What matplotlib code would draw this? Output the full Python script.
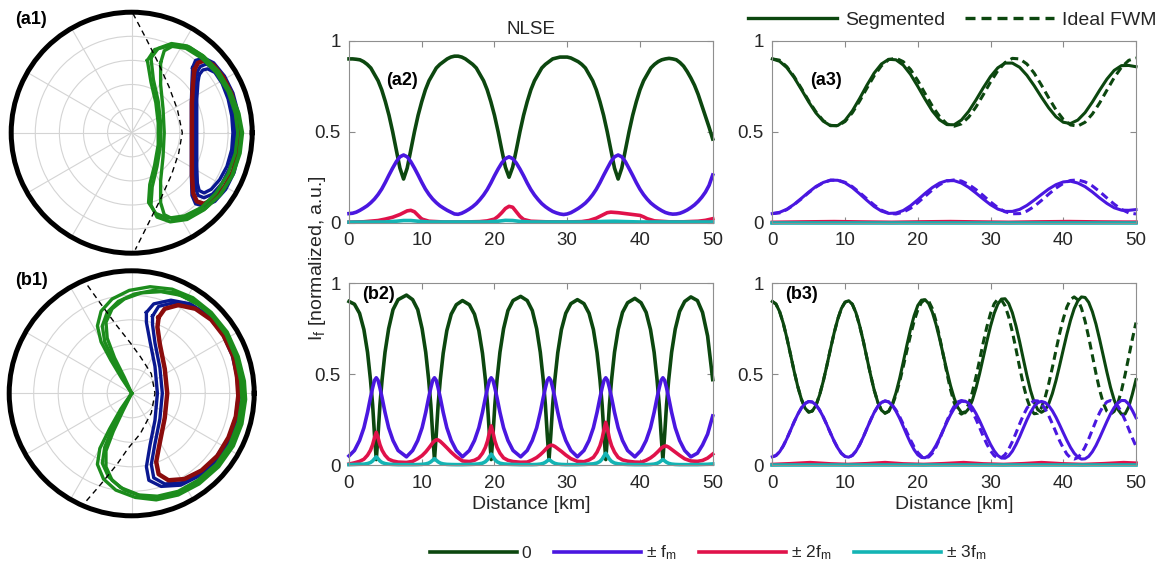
import numpy as np
import matplotlib
matplotlib.use("Agg")
import matplotlib.pyplot as plt
from matplotlib.lines import Line2D

plt.rcParams['font.family'] = ['Liberation Sans', 'DejaVu Sans']
plt.rcParams['mathtext.fontset'] = 'custom'
plt.rcParams['mathtext.rm'] = 'Liberation Sans'
plt.rcParams['mathtext.it'] = 'Liberation Sans:italic'
plt.rcParams['mathtext.bf'] = 'Liberation Sans:bold'

# ---------------- data: polar panels (normalised x, y on the unit disc) ----------------
a1_green_lap1 = [(0.16,0.62),(0.22,0.70),(0.33,0.74),(0.46,0.72),(0.59,0.64),(0.71,0.52),(0.81,0.35),(0.88,0.17),
                 (0.91,0.0),(0.89,-0.18),(0.83,-0.36),(0.73,-0.52),(0.60,-0.64),(0.46,-0.72),(0.32,-0.74),(0.21,-0.70),
                 (0.16,-0.60),(0.17,-0.45),(0.21,-0.28),(0.24,-0.10),(0.24,0.08),(0.22,0.26),(0.18,0.44),(0.16,0.62)]
a1_green_lap2 = [(0.13,0.60),(0.19,0.69),(0.31,0.72),(0.45,0.70),(0.58,0.62),(0.70,0.50),(0.80,0.34),(0.86,0.16),
                 (0.88,0.0),(0.86,-0.17),(0.80,-0.34),(0.70,-0.50),(0.58,-0.62),(0.44,-0.69),(0.30,-0.71),(0.20,-0.67),
                 (0.14,-0.58),(0.15,-0.43),(0.19,-0.27),(0.22,-0.10),(0.22,0.08),(0.20,0.25),(0.16,0.42),(0.13,0.60)]
a1_green_lap3 = [(0.24,0.58),(0.27,0.68),(0.36,0.73),(0.48,0.71),(0.60,0.63),(0.72,0.51),(0.82,0.34),(0.89,0.16),
                 (0.92,0.0),(0.90,-0.17),(0.84,-0.35),(0.74,-0.51),(0.61,-0.63),(0.47,-0.70),(0.35,-0.72),(0.27,-0.68),
                 (0.24,-0.58),(0.24,-0.40),(0.26,-0.20),(0.27,0.0),(0.26,0.20),(0.24,0.40),(0.24,0.58)]
a1_blue_lap1 = [(0.54,0.50),(0.57,0.55),(0.62,0.57),(0.69,0.53),(0.76,0.43),(0.82,0.30),(0.85,0.15),(0.86,0.0),
                (0.85,-0.15),(0.81,-0.30),(0.75,-0.42),(0.67,-0.51),(0.60,-0.54),(0.55,-0.52),(0.53,-0.46),(0.52,-0.30),
                (0.52,-0.10),(0.52,0.10),(0.52,0.30),(0.53,0.44),(0.54,0.50)]
a1_blue_lap2 = [(0.56,0.48),(0.59,0.52),(0.63,0.53),(0.69,0.50),(0.75,0.41),(0.80,0.28),(0.83,0.14),(0.84,0.0),
                (0.83,-0.14),(0.79,-0.28),(0.73,-0.39),(0.66,-0.47),(0.60,-0.50),(0.56,-0.48),(0.545,-0.42),(0.54,-0.28),
                (0.54,-0.10),(0.54,0.10),(0.54,0.28),(0.55,0.42),(0.56,0.48)]
a1_blue_lap3 = [(0.505,0.54),(0.53,0.60),(0.60,0.62),(0.68,0.58),(0.77,0.47),(0.84,0.33),(0.885,0.16),(0.90,0.0),
                (0.89,-0.16),(0.85,-0.33),(0.78,-0.47),(0.69,-0.57),(0.60,-0.61),(0.53,-0.59),(0.50,-0.52),(0.495,-0.35),
                (0.495,-0.15),(0.495,0.05),(0.495,0.25),(0.50,0.42),(0.505,0.54)]
a1_red = [(0.52,0.52),(0.55,0.58),(0.61,0.60),(0.68,0.56),(0.76,0.46),(0.83,0.32),(0.87,0.16),(0.89,0.0),
          (0.88,-0.16),(0.84,-0.32),(0.77,-0.45),(0.68,-0.55),(0.60,-0.59),(0.54,-0.57),(0.51,-0.50),(0.50,-0.35),
          (0.50,-0.15),(0.50,0.05),(0.50,0.25),(0.51,0.42),(0.52,0.52)]
a1_dash = [(0.01,0.99),(0.12,0.78),(0.22,0.58),(0.31,0.38),(0.38,0.19),(0.42,0.0),(0.39,-0.17),(0.33,-0.35),
           (0.24,-0.55),(0.14,-0.75),(0.03,-0.97)]

b1_green_lap1 = [(0.0,0.0),(-0.08,0.12),(-0.17,0.27),(-0.25,0.42),(-0.28,0.55),(-0.25,0.67),(-0.16,0.77),(-0.02,0.84),
                 (0.15,0.87),(0.33,0.85),(0.50,0.78),(0.65,0.66),(0.78,0.50),(0.87,0.30),(0.92,0.10),(0.93,-0.05),
                 (0.90,-0.25),(0.83,-0.43),(0.71,-0.60),(0.55,-0.74),(0.38,-0.83),(0.20,-0.87),(0.03,-0.85),(-0.13,-0.79),
                 (-0.23,-0.70),(-0.28,-0.58),(-0.26,-0.45),(-0.18,-0.29),(-0.09,-0.13),(0.0,0.0)]
b1_green_lap2 = [(0.0,0.0),(-0.07,0.12),(-0.15,0.27),(-0.22,0.42),(-0.24,0.55),(-0.20,0.66),(-0.11,0.75),(0.02,0.81),
                 (0.18,0.84),(0.35,0.82),(0.51,0.75),(0.65,0.64),(0.77,0.48),(0.85,0.29),(0.89,0.10),(0.90,-0.05),
                 (0.87,-0.24),(0.80,-0.42),(0.69,-0.58),(0.54,-0.71),(0.38,-0.80),(0.21,-0.84),(0.06,-0.83),(-0.09,-0.77),
                 (-0.19,-0.68),(-0.24,-0.57),(-0.22,-0.44),(-0.16,-0.29),(-0.08,-0.13),(0.0,0.0)]
b1_green_lap3 = [(0.0,0.0),(-0.06,0.13),(-0.14,0.29),(-0.20,0.45),(-0.21,0.58),(-0.16,0.69),(-0.06,0.77),(0.08,0.82),
                 (0.24,0.83),(0.40,0.80),(0.55,0.72),(0.68,0.61),(0.79,0.46),(0.86,0.28),(0.90,0.10),(0.91,-0.06),
                 (0.88,-0.25),(0.81,-0.43),(0.70,-0.59),(0.56,-0.72),(0.40,-0.81),(0.24,-0.85),(0.08,-0.84),(-0.06,-0.79),
                 (-0.16,-0.71),(-0.21,-0.60),(-0.21,-0.47),(-0.15,-0.31),(-0.07,-0.14),(0.0,0.0)]
b1_blue_lap1 = [(0.12,0.66),(0.18,0.73),(0.32,0.76),(0.48,0.73),(0.62,0.64),(0.74,0.50),(0.83,0.32),(0.87,0.14),
                (0.88,-0.02),(0.86,-0.20),(0.80,-0.38),(0.70,-0.54),(0.56,-0.67),(0.40,-0.75),(0.24,-0.76),(0.14,-0.71),
                (0.12,-0.60),(0.15,-0.42),(0.19,-0.22),(0.21,0.0),(0.19,0.22),(0.15,0.42),(0.12,0.58),(0.12,0.66)]
b1_blue_lap2 = [(0.17,0.63),(0.22,0.71),(0.35,0.74),(0.50,0.71),(0.63,0.62),(0.74,0.49),(0.82,0.31),(0.86,0.14),
                (0.87,-0.02),(0.85,-0.19),(0.79,-0.37),(0.69,-0.52),(0.56,-0.65),(0.41,-0.73),(0.27,-0.74),(0.18,-0.69),
                (0.16,-0.58),(0.19,-0.41),(0.23,-0.21),(0.25,0.0),(0.23,0.21),(0.19,0.41),(0.17,0.56),(0.17,0.63)]
b1_red = [(0.22,0.62),(0.27,0.69),(0.38,0.72),(0.52,0.69),(0.65,0.60),(0.75,0.47),(0.83,0.30),(0.86,0.13),
          (0.87,-0.02),(0.85,-0.19),(0.79,-0.36),(0.70,-0.51),(0.57,-0.63),(0.43,-0.70),(0.30,-0.71),(0.22,-0.66),
          (0.20,-0.56),(0.23,-0.40),(0.27,-0.20),(0.29,0.0),(0.27,0.20),(0.23,0.40),(0.21,0.54),(0.22,0.62)]
b1_dash = [(-0.36,0.88),(-0.26,0.74),(-0.12,0.55),(-0.01,0.41),(0.07,0.30),(0.16,0.16),(0.19,0.0),(0.16,-0.16),
           (0.07,-0.33),(-0.03,-0.45),(-0.12,-0.58),(-0.25,-0.74),(-0.38,-0.89)]

# ---------------- data: line panels ----------------
x_half = [i * 0.5 for i in range(101)]     # 0 ... 50 km, 0.5 km step
x_one = list(range(51))                     # 0 ... 50 km, 1 km step

# (a2) NLSE
a2_p0 = [0.900,0.900,0.898,0.895,0.885,0.870,0.850,0.815,0.780,0.730,
         0.665,0.590,0.500,0.400,0.300,0.240,0.300,0.400,0.500,0.590,
         0.665,0.730,0.780,0.815,0.850,0.870,0.885,0.900,0.910,0.915,
         0.915,0.910,0.900,0.885,0.870,0.850,0.815,0.780,0.730,0.665,
         0.590,0.500,0.400,0.305,0.250,0.305,0.400,0.500,0.590,0.665,
         0.730,0.780,0.815,0.850,0.870,0.885,0.900,0.905,0.910,0.910,
         0.910,0.905,0.895,0.885,0.870,0.850,0.815,0.780,0.730,0.665,
         0.590,0.500,0.400,0.300,0.240,0.300,0.400,0.500,0.590,0.665,
         0.730,0.780,0.815,0.850,0.870,0.885,0.895,0.900,0.903,0.900,
         0.895,0.880,0.860,0.830,0.795,0.755,0.705,0.645,0.585,0.525,
         0.460]
a2_p1 = [0.050,0.052,0.058,0.068,0.080,0.093,0.110,0.130,0.155,0.185,
         0.222,0.262,0.300,0.335,0.362,0.372,0.362,0.335,0.300,0.262,
         0.222,0.185,0.155,0.130,0.110,0.093,0.080,0.068,0.058,0.048,
         0.046,0.052,0.062,0.074,0.088,0.105,0.127,0.152,0.182,0.218,
         0.258,0.295,0.328,0.352,0.362,0.352,0.328,0.295,0.258,0.218,
         0.182,0.152,0.127,0.105,0.088,0.074,0.062,0.054,0.048,0.045,
         0.048,0.055,0.066,0.078,0.092,0.108,0.129,0.154,0.184,0.220,
         0.260,0.298,0.335,0.362,0.372,0.362,0.335,0.298,0.260,0.220,
         0.184,0.154,0.129,0.108,0.092,0.078,0.066,0.056,0.050,0.047,
         0.048,0.052,0.060,0.070,0.083,0.098,0.117,0.140,0.168,0.205,
         0.262]
a2_p2_x = [0,2,4,5,6,7,7.5,8,8.5,9,9.5,10,11,13,16,18,19,20,20.5,21,21.5,22,22.5,23,23.5,24,25,27,
           30,32,33,34,35,35.5,36,37,38,39,40,40.5,41,42,44,46,48,49,50]
a2_p2 = [0.003,0.005,0.012,0.02,0.03,0.045,0.055,0.065,0.068,0.06,0.04,0.02,0.008,0.004,
         0.004,0.006,0.01,0.02,0.035,0.055,0.078,0.09,0.085,0.06,0.035,0.018,0.008,0.005,
         0.004,0.006,0.012,0.025,0.045,0.055,0.058,0.055,0.05,0.045,0.04,0.032,0.022,0.01,
         0.005,0.005,0.008,0.013,0.022]
a2_p3_x = [0,5,6.5,7.5,8.5,9.5,11,19,20.5,21.5,22.5,23.5,25,33,35,36.5,38,40,50]
a2_p3 = [0.003,0.004,0.008,0.012,0.012,0.008,0.004,0.004,0.008,0.013,0.012,0.007,0.004,0.004,0.007,0.008,0.006,0.004,0.004]

# (a3) segmented vs ideal FWM
a3_p0_seg = [0.900,0.887,0.852,0.798,0.732,0.664,0.603,0.558,0.533,0.534,
             0.562,0.614,0.682,0.755,0.822,0.872,0.898,0.895,0.866,0.815,
             0.749,0.679,0.614,0.565,0.539,0.538,0.564,0.612,0.674,0.741,
             0.803,0.851,0.877,0.877,0.854,0.810,0.753,0.690,0.631,0.582,
             0.552,0.545,0.564,0.605,0.663,0.728,0.789,0.837,0.863,0.864,0.857]
a3_p0_fwm = [0.900,0.893,0.857,0.803,0.738,0.670,0.609,0.561,0.535,0.532,
             0.556,0.604,0.668,0.739,0.807,0.862,0.896,0.904,0.885,0.842,
             0.781,0.710,0.641,0.583,0.543,0.530,0.543,0.580,0.636,0.703,
             0.773,0.835,0.880,0.903,0.900,0.872,0.822,0.756,0.686,0.620,
             0.568,0.537,0.531,0.552,0.597,0.658,0.728,0.797,0.854,0.892,0.905]
a3_p1_seg = [0.050,0.057,0.074,0.101,0.134,0.168,0.199,0.221,0.234,0.233,
             0.219,0.193,0.159,0.123,0.089,0.064,0.051,0.053,0.067,0.093,
             0.126,0.161,0.193,0.218,0.231,0.231,0.218,0.194,0.163,0.130,
             0.099,0.075,0.062,0.062,0.073,0.095,0.124,0.155,0.185,0.209,
             0.224,0.228,0.218,0.198,0.169,0.136,0.106,0.082,0.069,0.068,0.072]
a3_p1_fwm = [0.050,0.054,0.072,0.099,0.131,0.165,0.196,0.220,0.233,0.234,
             0.222,0.198,0.166,0.131,0.097,0.069,0.052,0.048,0.058,0.079,
             0.110,0.145,0.180,0.209,0.229,0.235,0.229,0.210,0.182,0.149,
             0.114,0.083,0.060,0.049,0.050,0.064,0.089,0.122,0.157,0.190,
             0.216,0.232,0.235,0.224,0.202,0.171,0.136,0.102,0.073,0.054,0.048]
a3_p2_x = [0,4,8.5,12,16.4,20,24.5,28,32.5,36,40.8,45,48.5,50]
a3_p2 = [0.002,0.004,0.006,0.004,0.002,0.004,0.006,0.004,0.002,0.004,0.006,0.004,0.003,0.003]
a3_p3_x = [0,25,50]
a3_p3 = [0.001,0.001,0.001]

# (b2) NLSE
b2_x = [0,0.75,1.45,2.05,2.55,2.95,3.25,3.5,3.75,4.0,4.25,4.55,4.95,5.45,6.05,6.75,7.9,
        8.75,9.45,10.05,10.55,10.95,11.25,11.5,11.75,12.0,12.25,12.55,12.95,13.45,14.05,14.75,15.6,
        16.55,17.25,17.85,18.35,18.75,19.05,19.3,19.55,19.8,20.05,20.35,20.75,21.25,21.85,22.55,23.6,
        24.5,25.2,25.8,26.3,26.7,27.0,27.25,27.5,27.75,28.0,28.3,28.7,29.2,29.8,30.5,31.4,
        32.3,33.0,33.6,34.1,34.5,34.8,35.05,35.3,35.55,35.8,36.1,36.5,37.0,37.6,38.3,39.3,
        40.15,40.85,41.45,41.95,42.35,42.65,42.9,43.15,43.4,43.65,43.95,44.35,44.85,45.45,46.15,47.0,
        47.9,48.6,49.3,50.0]
b2_p0 = [0.900,0.885,0.835,0.745,0.620,0.470,0.330,0.170,0.030,0.170,0.330,0.470,0.620,0.750,0.855,0.910,0.935,
         0.910,0.855,0.750,0.620,0.470,0.330,0.170,0.030,0.170,0.330,0.470,0.615,0.740,0.830,0.882,0.905,
         0.882,0.830,0.740,0.615,0.470,0.330,0.170,0.030,0.170,0.330,0.470,0.620,0.750,0.850,0.905,0.928,
         0.905,0.850,0.750,0.620,0.470,0.330,0.170,0.030,0.170,0.330,0.470,0.618,0.745,0.835,0.888,0.910,
         0.888,0.835,0.745,0.618,0.470,0.330,0.170,0.030,0.170,0.330,0.470,0.620,0.745,0.840,0.893,0.917,
         0.893,0.840,0.745,0.620,0.470,0.330,0.170,0.030,0.170,0.330,0.470,0.620,0.748,0.845,0.900,0.925,
         0.905,0.840,0.710,0.470]
b2_p1 = [0.050,0.080,0.135,0.205,0.290,0.370,0.425,0.465,0.480,0.465,0.425,0.370,0.290,0.205,0.135,0.080,0.045,
         0.080,0.135,0.205,0.290,0.370,0.425,0.465,0.480,0.465,0.425,0.370,0.290,0.205,0.135,0.080,0.045,
         0.080,0.135,0.205,0.290,0.370,0.425,0.465,0.480,0.465,0.425,0.370,0.290,0.205,0.135,0.080,0.045,
         0.080,0.135,0.205,0.290,0.370,0.425,0.465,0.480,0.465,0.425,0.370,0.290,0.205,0.135,0.080,0.045,
         0.080,0.135,0.205,0.290,0.370,0.425,0.465,0.480,0.465,0.425,0.370,0.290,0.205,0.135,0.080,0.045,
         0.080,0.135,0.205,0.290,0.370,0.425,0.465,0.480,0.465,0.425,0.370,0.290,0.205,0.135,0.080,0.045,
         0.065,0.110,0.170,0.270]
b2_p2 = [0.005,0.012,0.020,0.032,0.054,0.081,0.112,0.149,0.180,0.149,0.112,0.081,0.054,0.032,0.022,0.016,0.014,
         0.020,0.035,0.052,0.072,0.092,0.108,0.122,0.132,0.139,0.138,0.130,0.115,0.095,0.070,0.045,0.022,
         0.019,0.026,0.039,0.065,0.097,0.133,0.178,0.215,0.178,0.133,0.097,0.065,0.039,0.026,0.019,0.015,
         0.016,0.028,0.041,0.057,0.072,0.085,0.096,0.104,0.109,0.108,0.102,0.090,0.075,0.055,0.035,0.020,
         0.018,0.028,0.042,0.071,0.106,0.146,0.195,0.235,0.195,0.146,0.106,0.071,0.042,0.028,0.021,0.016,
         0.015,0.026,0.039,0.054,0.069,0.081,0.092,0.099,0.104,0.104,0.098,0.086,0.071,0.053,0.034,0.022,
         0.020,0.025,0.038,0.060]
b2_p3 = [0.002,0.003,0.004,0.0045,0.008,0.0135,0.0225,0.034,0.045,0.034,0.0225,0.0135,0.008,0.0045,0.003,0.002,0.002,
         0.002,0.0025,0.0035,0.006,0.0105,0.0175,0.026,0.035,0.026,0.0175,0.0105,0.006,0.0035,0.0025,0.002,0.002,
         0.003,0.004,0.006,0.010,0.018,0.030,0.045,0.060,0.045,0.030,0.018,0.010,0.006,0.004,0.003,0.002,
         0.002,0.002,0.003,0.005,0.009,0.015,0.0225,0.030,0.0225,0.015,0.009,0.005,0.003,0.002,0.002,0.002,
         0.003,0.0045,0.0065,0.011,0.0195,0.0325,0.049,0.065,0.049,0.0325,0.0195,0.011,0.0065,0.0045,0.003,0.002,
         0.002,0.002,0.003,0.005,0.009,0.015,0.0225,0.030,0.0225,0.015,0.009,0.005,0.003,0.002,0.002,0.002,
         0.002,0.003,0.004,0.006]

# (b3) segmented vs ideal FWM
b3_p0_seg = [0.900,0.886,0.845,0.781,0.700,0.609,0.516,0.432,0.362,0.313,0.291,
             0.297,0.328,0.385,0.460,0.547,0.639,0.727,0.803,0.862,0.896,0.904,
             0.885,0.838,0.768,0.684,0.590,0.498,0.413,0.346,0.302,0.285,
             0.296,0.335,0.397,0.475,0.566,0.659,0.747,0.822,0.878,0.907,0.910,
             0.888,0.841,0.775,0.695,0.607,0.519,0.437,0.368,0.317,0.289,
             0.287,0.310,0.356,0.423,0.503,0.592,0.681,0.764,0.834,0.885,0.913,
             0.915,0.889,0.838,0.765,0.679,0.585,0.493,0.410,0.345,0.304,0.290,
             0.302,0.337,0.393,0.465,0.548,0.635,0.720,0.797,0.860,0.903,0.925,
             0.922,0.895,0.844,0.775,0.691,0.601,0.511,0.427,0.358,0.307,0.280,
             0.281,0.320,0.390,0.470]
b3_p0_fwm = [0.900,0.886,0.845,0.781,0.700,0.609,0.516,0.432,0.362,0.313,0.291,
             0.297,0.328,0.385,0.460,0.547,0.639,0.727,0.803,0.862,0.896,0.904,
             0.885,0.838,0.768,0.684,0.590,0.498,0.413,0.346,0.302,0.285,
             0.295,0.330,0.385,0.457,0.541,0.630,0.714,0.792,0.853,0.894,
             0.911,0.902,0.861,0.793,0.705,0.606,0.506,0.415,0.343,0.296,
             0.280,0.294,0.336,0.401,0.485,0.578,0.674,0.761,0.834,0.887,
             0.913,0.909,0.876,0.815,0.733,0.638,0.538,0.444,0.366,0.310,
             0.282,0.285,0.315,0.371,0.447,0.536,0.631,0.724,0.804,0.870,
             0.911,0.925,0.909,0.863,0.792,0.702,0.603,0.503,0.413,0.341,
             0.295,0.280,0.295,0.340,0.409,0.497,0.595,0.693,0.784]
b3_p1_seg = [0.045,0.052,0.0725,0.1045,0.145,0.1905,0.237,0.279,0.314,0.3385,0.3495,
             0.3465,0.331,0.3025,0.265,0.2215,0.1755,0.1315,0.0935,0.064,0.047,0.043,
             0.0525,0.076,0.111,0.153,0.2,0.246,0.2885,0.322,0.344,0.3525,
             0.347,0.3275,0.2965,0.2575,0.212,0.1655,0.1215,0.084,0.056,0.0415,0.04,
             0.051,0.0745,0.1075,0.1475,0.1915,0.2355,0.2765,0.311,0.3365,0.3505,
             0.3515,0.34,0.317,0.2835,0.2435,0.199,0.1545,0.113,0.078,0.0525,0.0385,
             0.0375,0.0505,0.076,0.1125,0.1555,0.2025,0.2485,0.29,0.3225,0.343,0.35,
             0.344,0.3265,0.2985,0.2625,0.221,0.1775,0.135,0.0965,0.065,0.0435,0.0325,
             0.034,0.0475,0.073,0.1075,0.1495,0.1945,0.2395,0.2815,0.316,0.3415,0.355,
             0.3545,0.335,0.3,0.26]
b3_p1_fwm = [0.045,0.052,0.0725,0.1045,0.145,0.1905,0.237,0.279,0.314,0.3385,0.3495,
             0.3465,0.331,0.3025,0.265,0.2215,0.1755,0.1315,0.0935,0.064,0.047,0.043,
             0.0525,0.076,0.111,0.153,0.2,0.246,0.2885,0.322,0.344,0.3525,
             0.3475,0.33,0.3025,0.2665,0.2245,0.18,0.138,0.099,0.0685,0.048,
             0.0395,0.044,0.0645,0.0985,0.1425,0.192,0.242,0.2875,0.3235,0.347,
             0.355,0.348,0.327,0.2945,0.2525,0.206,0.158,0.1145,0.078,0.0515,
             0.0385,0.0405,0.057,0.0875,0.1285,0.176,0.226,0.273,0.312,0.34,
             0.354,0.3525,0.3375,0.3095,0.2715,0.227,0.1795,0.133,0.093,0.06,
             0.0395,0.0325,0.0405,0.0635,0.099,0.144,0.1935,0.2435,0.2885,0.3245,
             0.3475,0.355,0.3475,0.325,0.2905,0.2465,0.1975,0.1485,0.103]
b3_p2_x = [0,2.5,5.2,8,10.4,13,15.5,18,20.8,23.5,26.3,29,31.8,34.5,37,40,42.7,45.5,48.3,50]
b3_p2 = [0.003,0.007,0.013,0.006,0.003,0.007,0.013,0.006,0.003,0.007,0.013,0.006,0.003,0.007,0.013,0.006,0.003,0.007,0.013,0.010]
b3_p3_x = [0,25,50]
b3_p3 = [0.001,0.001,0.001]

legend_labels = ['0', '\u00b1 f$_\\mathrm{m}$', '\u00b1 2f$_\\mathrm{m}$', '\u00b1 3f$_\\mathrm{m}$']
x_ticks = [0, 10, 20, 30, 40, 50]
y_ticks = [0, 0.5, 1]
y_tick_labels = ['0', '0.5', '1']

# ---------------- style ----------------
C0 = '#0c470f'
C1 = '#4a17e0'
C2 = '#e0124a'
C3 = '#14b4b4'
PG = '#1c8c1c'
PB = '#0a1890'
PR = '#8a0c0c'
TXT = '#262626'
LW = 2.6

W, H = 1161, 572
fig = plt.figure(figsize=(W / 100, H / 100), dpi=100)


def frac(l, t, w, h):
    return [l / W, 1 - (t + h) / H, w / W, h / H]


def polar_panel(rect, greens, blues, reds, dash):
    ax = fig.add_axes(rect, projection='polar')
    for lap in blues:
        xy = np.array(lap)
        ax.plot(np.arctan2(xy[:, 1], xy[:, 0]), np.hypot(xy[:, 0], xy[:, 1]), color=PB, lw=2.4, zorder=3)
    for lap in reds:
        xy = np.array(lap)
        ax.plot(np.arctan2(xy[:, 1], xy[:, 0]), np.hypot(xy[:, 0], xy[:, 1]), color=PR, lw=3.2, zorder=4)
    for lap in greens:
        xy = np.array(lap)
        ax.plot(np.arctan2(xy[:, 1], xy[:, 0]), np.hypot(xy[:, 0], xy[:, 1]), color=PG, lw=2.4, zorder=5)
    xy = np.array(dash)
    ax.plot(np.arctan2(xy[:, 1], xy[:, 0]), np.hypot(xy[:, 0], xy[:, 1]), color='black', lw=1.0,
            ls=(0, (4, 3)), zorder=6)
    ax.set_ylim(0, 1)
    ax.set_rticks([0.2, 0.4, 0.6, 0.8])
    ax.set_yticklabels([])
    ax.set_thetagrids(np.arange(0, 360, 30), labels=[])
    ax.grid(True, color='#d4d4d4', lw=0.8)
    ax.spines['polar'].set_linewidth(3.6)
    ax.spines['polar'].set_color('black')
    ax.tick_params(length=0)
    return ax


def line_panel(rect):
    ax = fig.add_axes(rect)
    ax.set_xlim(0, 50)
    ax.set_ylim(0, 1)
    ax.set_xticks(x_ticks)
    ax.set_yticks(y_ticks)
    ax.set_yticklabels(y_tick_labels)
    ax.tick_params(direction='in', length=4, width=0.8, top=True, right=True, color='#8a8a8a',
                   labelcolor=TXT, labelsize=13.5)
    ax.tick_params(axis='x', pad=7)
    ax.tick_params(axis='y', pad=6)
    for s in ax.spines.values():
        s.set_color('#8f8f8f')
        s.set_linewidth(0.8)
    return ax


# polar panels
polar_panel(frac(11.2, 12.2, 241, 241), [a1_green_lap1, a1_green_lap2, a1_green_lap3],
            [a1_blue_lap1, a1_blue_lap2, a1_blue_lap3], [a1_red], a1_dash)
polar_panel(frac(9.2, 270.8, 245, 245), [b1_green_lap1, b1_green_lap2, b1_green_lap3],
            [b1_blue_lap1, b1_blue_lap2], [b1_red], b1_dash)
fig.text(15 / W, 1 - 19.5 / H, '(a1)', fontsize=13, fontweight='bold', ha='left', va='center')
fig.text(15 / W, 1 - 280 / H, '(b1)', fontsize=13, fontweight='bold', ha='left', va='center')

# a2
ax = line_panel(frac(349, 40.7, 363.7, 182))
ax.plot(x_half, a2_p0, color=C0, lw=LW, clip_on=False)
ax.plot(x_half, a2_p1, color=C1, lw=LW, clip_on=False)
ax.plot(a2_p2_x, a2_p2, color=C2, lw=LW, clip_on=False)
ax.plot(a2_p3_x, a2_p3, color=C3, lw=LW, clip_on=False)
ax.set_title('NLSE', fontsize=13.5, color=TXT, pad=5)
ax.text(5.1, 0.78, '(a2)', fontsize=13, fontweight='bold', ha='left', va='center')

# b2
ax = line_panel(frac(349, 283.3, 363.7, 181.7))
ax.plot(b2_x, b2_p0, color=C0, lw=LW, clip_on=False)
ax.plot(b2_x, b2_p1, color=C1, lw=LW, clip_on=False)
ax.plot(b2_x, b2_p2, color=C2, lw=LW, clip_on=False)
ax.plot(b2_x, b2_p3, color=C3, lw=LW, clip_on=False)
ax.set_xlabel('Distance [km]', fontsize=14, color=TXT, labelpad=3)
ax.text(1.8, 0.94, '(b2)', fontsize=13, fontweight='bold', ha='left', va='center')

DASH = (0, (2.6, 1.6))
# a3
ax = line_panel(frac(772.3, 40.7, 363.7, 182))
ax.plot(x_one, a3_p0_seg, color=C0, lw=LW - 0.4, clip_on=False)
ax.plot(x_one, a3_p0_fwm, color=C0, lw=LW - 0.4, ls=DASH, clip_on=False)
ax.plot(x_one, a3_p1_seg, color=C1, lw=LW - 0.4, clip_on=False)
ax.plot(x_one, a3_p1_fwm, color=C1, lw=LW - 0.4, ls=DASH, clip_on=False)
ax.plot(a3_p2_x, a3_p2, color=C2, lw=LW, clip_on=False)
ax.plot(a3_p3_x, a3_p3, color=C3, lw=LW, clip_on=False)
ax.text(5.2, 0.78, '(a3)', fontsize=13, fontweight='bold', ha='left', va='center')

# b3
ax = line_panel(frac(772.3, 283.3, 363.7, 181.7))
ax.plot(x_half, b3_p0_seg, color=C0, lw=LW - 0.4, clip_on=False)
ax.plot(x_half, b3_p0_fwm, color=C0, lw=LW - 0.4, ls=DASH, clip_on=False)
ax.plot(x_half, b3_p1_seg, color=C1, lw=LW - 0.4, clip_on=False)
ax.plot(x_half, b3_p1_fwm, color=C1, lw=LW - 0.4, ls=DASH, clip_on=False)
ax.plot(b3_p2_x, b3_p2, color=C2, lw=LW, clip_on=False)
ax.plot(b3_p3_x, b3_p3, color=C3, lw=LW, clip_on=False)
ax.set_xlabel('Distance [km]', fontsize=14, color=TXT, labelpad=3)
ax.text(1.75, 0.94, '(b3)', fontsize=13, fontweight='bold', ha='left', va='center')

# shared y label
fig.text(318 / W, 1 - 258 / H, 'I$_\\mathrm{f}$ [normalized, a.u.]', rotation=90, ha='center', va='center',
         fontsize=14, color=TXT)

# top legend (line styles)
h_top = [Line2D([], [], color=C0, lw=2.4), Line2D([], [], color=C0, lw=2.4, ls=(0, (3, 1.8)))]
fig.legend(h_top, ['Segmented', 'Ideal FWM'], loc='center', bbox_to_anchor=(952 / W, 1 - 20 / H), ncol=2,
           frameon=False, fontsize=14, handlelength=4.6, handletextpad=0.4, columnspacing=1.0,
           labelcolor=TXT, borderpad=0.1)

# bottom legend (frequency components)
h_bot = [Line2D([], [], color=c, lw=2.6) for c in (C0, C1, C2, C3)]
fig.legend(h_bot, legend_labels, loc='center', bbox_to_anchor=(708 / W, 1 - 553 / H), ncol=4,
           frameon=False, fontsize=12.5, handlelength=5.0, handletextpad=0.3, columnspacing=1.3,
           labelcolor=TXT, borderpad=0.1)

fig.savefig('out.png', dpi=100)
